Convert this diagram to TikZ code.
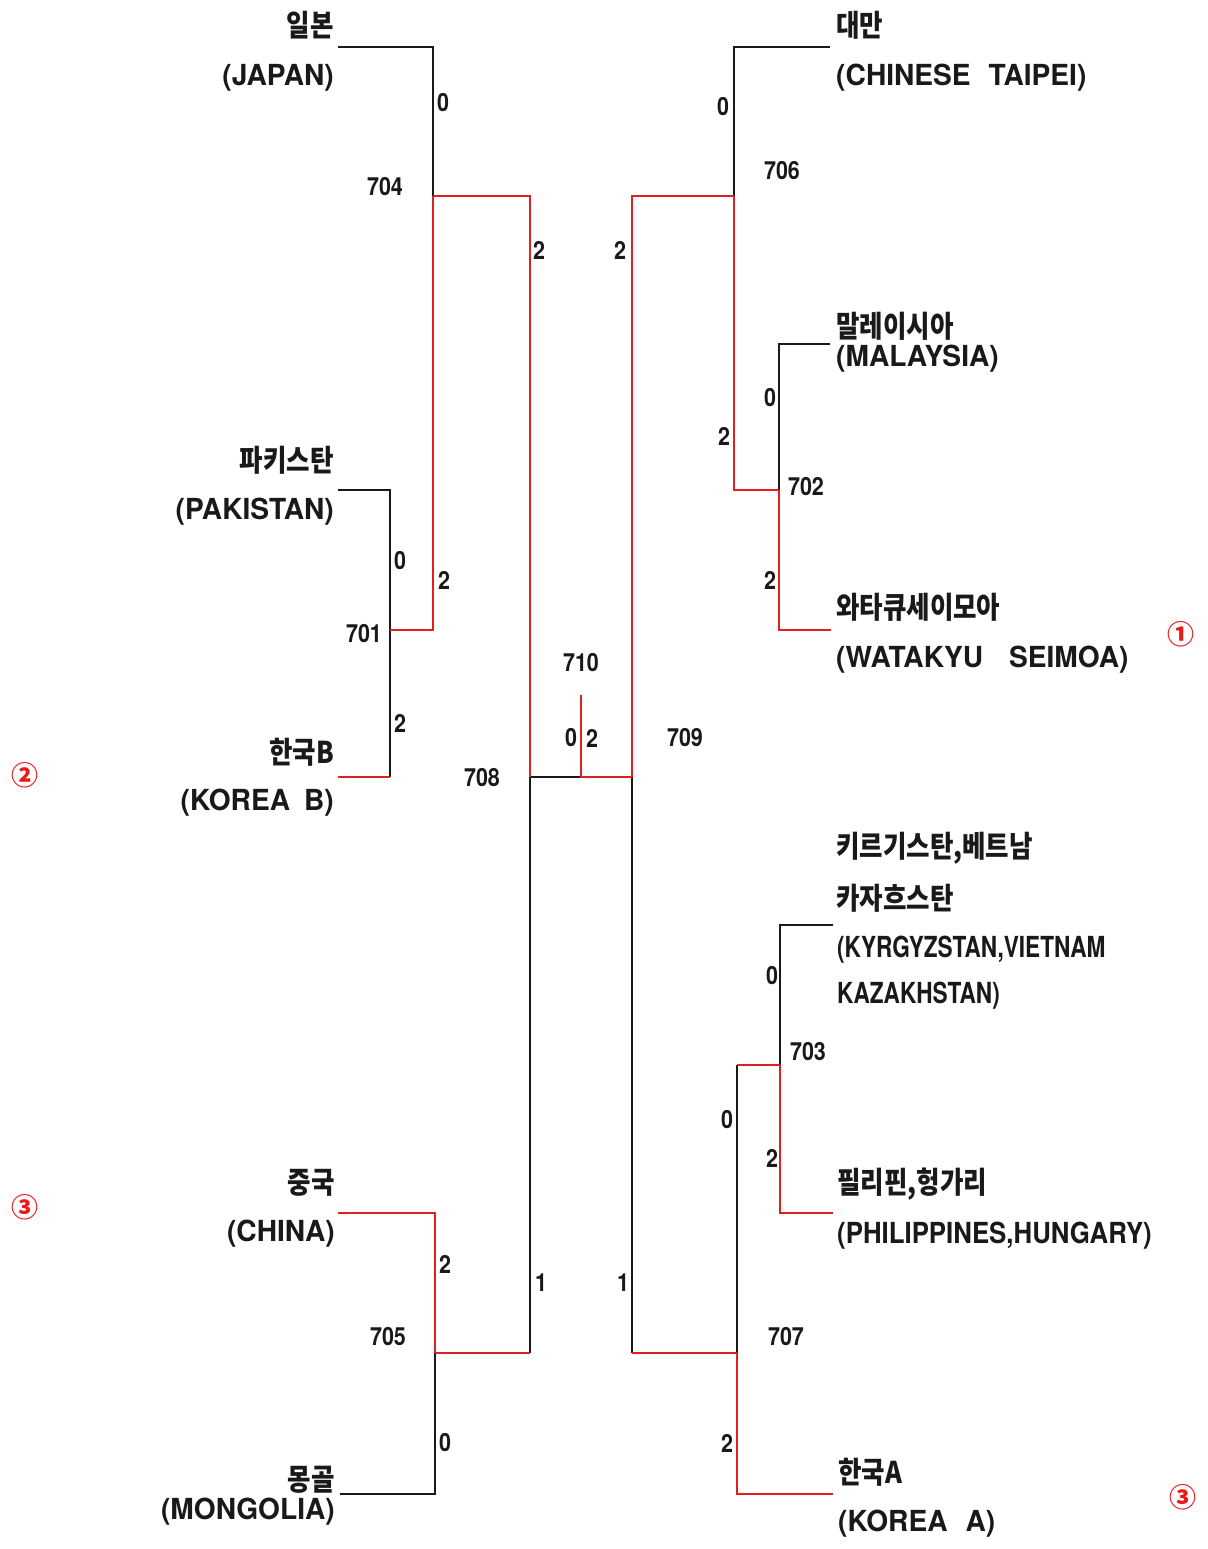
\documentclass[tikz,border=0pt]{standalone}
\usepackage{fontspec}
\setmainfont{TeX Gyre Heros}
\newfontfamily\enfont[FakeStretch=0.97]{TeX Gyre Heros}
\newfontfamily\enmid[FakeStretch=0.89]{TeX Gyre Heros}
\newfontfamily\encond[FakeStretch=0.78]{TeX Gyre Heros}
\newfontfamily\numfont[FakeStretch=0.86]{TeX Gyre Heros}
\newfontfamily\krfont[FakeStretch=0.85]{Noto Sans CJK KR}
\newfontfamily\circfont{Noto Sans CJK KR}
\definecolor{lred}{RGB}{222,32,32}
\definecolor{cred}{RGB}{235,25,25}
\definecolor{ink}{RGB}{25,25,25}
\begin{document}
\begin{tikzpicture}[x=1pt,y=-1pt,
  blk/.style={draw=ink,line width=2.6pt},
  rd/.style={draw=lred,line width=2.7pt},
  en/.style={inner sep=0pt,text=ink,font=\enfont\bfseries\fontsize{29}{30}\selectfont},
  enm/.style={inner sep=0pt,text=ink,font=\enmid\bfseries\fontsize{29}{30}\selectfont},
  enc/.style={inner sep=0pt,text=ink,font=\encond\bfseries\fontsize{29}{30}\selectfont},
  kr/.style={inner sep=0pt,text=ink,font=\krfont\bfseries\fontsize{30}{31}\selectfont},
  num/.style={inner sep=0pt,text=ink,font=\numfont\bfseries\fontsize{25}{26}\selectfont},
  circ/.style={inner sep=0pt,text=cred,font=\circfont\bfseries\fontsize{27}{28}\selectfont}]
\useasboundingbox[fill=white] (0,0) rectangle (1207,1549);

% leaf end points
\coordinate (eJP) at (338,47);
\coordinate (ePK) at (338,490);
\coordinate (eKB) at (338,777);
\coordinate (eCN) at (338,1213);
\coordinate (eMN) at (340,1494);
\coordinate (eTW) at (830,47);
\coordinate (eMY) at (830,344);
\coordinate (eWS) at (831,630);
\coordinate (eKZ) at (833,925);
\coordinate (ePHL) at (833,1213);
\coordinate (eKA) at (833,1494);
% junctions
\coordinate (n701) at (390,630);
\coordinate (n704) at (433,196);
\coordinate (n705) at (435,1353);
\coordinate (n708) at (530,777);
\coordinate (n710) at (581,777);
\coordinate (t710) at (581,695);
\coordinate (n709) at (632,777);
\coordinate (n706) at (734,196);
\coordinate (n702) at (779,490);
\coordinate (n707) at (737,1353);
\coordinate (n703) at (780,1065);

% black connectors
\draw[blk] (eJP) -| (n704);
\draw[blk] (ePK) -| (n701) -- (n701 |- eKB);
\draw[blk] (n708) -- (n710);
\draw[blk] (n708) -- (n708 |- n705);
\draw[blk] (eMN) -| (n705);
\draw[blk] (eTW) -| (n706);
\draw[blk] (eMY) -| (n702);
\draw[blk] (n709) -- (n709 |- n707);
\draw[blk] (n707) -- (n707 |- n703);
\draw[blk] (eKZ) -| (n703);

% red connectors
\draw[rd] (eKB) -- (n701 |- eKB);
\draw[rd] (n701) -| (n704);
\draw[rd] (n704) -| (n708);
\draw[rd] (t710) -- (n710) -- (n709);
\draw[rd] (n705) -- (n708 |- n705);
\draw[rd] (eCN) -| (n705);
\draw[rd] (n709) |- (n706);
\draw[rd] (n706) |- (n702);
\draw[rd] (eWS) -| (n702);
\draw[rd] (n709 |- n707) -- (n707);
\draw[rd] (eKA) -| (n707);
\draw[rd] (n707 |- n703) -- (n703);
\draw[rd] (n703) |- (ePHL);

% match numbers
\node[num] (l704) at (385,187) {704};
\node[num] (l701) at (364,634) {701};
\node[num] (l705) at (388,1337) {705};
\node[num] (l708) at (482,778) {708};
\node[num] (l710) at (581,663) {710};
\node[num] (l709) at (685,738) {709};
\node[num] (l706) at (782,171) {706};
\node[num] (l702) at (806,487) {702};
\node[num] (l703) at (808,1052) {703};
\node[num] (l707) at (786,1337) {707};

% scores
\node[num] (s1) at (443,103) {0};
\node[num] (s2) at (539,250) {2};
\node[num] (s3) at (444,580) {2};
\node[num] (s4) at (400,561) {0};
\node[num] (s5) at (400,723) {2};
\node[num] (s6) at (571,738) {0};
\node[num] (s7) at (592,738) {2};
\node[num] (s8) at (541,1283) {1};
\node[num] (s9) at (623,1283) {1};
\node[num] (s10) at (445,1264) {2};
\node[num] (s11) at (445,1443) {0};
\node[num] (s12) at (620,250) {2};
\node[num] (s13) at (723,107) {0};
\node[num] (s14) at (724,436) {2};
\node[num] (s15) at (770,398) {0};
\node[num] (s16) at (770,580) {2};
\node[num] (s17) at (727,1120) {0};
\node[num] (s18) at (772,976) {0};
\node[num] (s19) at (772,1158) {2};
\node[num] (s20) at (727,1443) {2};

% left team names
\node[kr,anchor=east] (jpk) at (334,25) {일본};
\node[en,anchor=east] (jpe) at (334,78) {(JAPAN)};
\node[kr,anchor=east] (pkk) at (334,460) {파키스탄};
\node[en,anchor=east] (pke) at (334,512) {(PAKISTAN)};
\node[kr,anchor=east] (kbk) at (334,752) {한국B};
\node[en,anchor=east] (kbe) at (334,803) {(KOREA\hspace{14pt}B)};
\node[kr,anchor=east] (cnk) at (335,1183) {중국};
\node[en,anchor=east] (cne) at (335,1234) {(CHINA)};
\node[kr,anchor=east] (mnk) at (335,1480) {몽골};
\node[en,anchor=east] (mne) at (335,1512) {(MONGOLIA)};

% right team names
\node[kr,anchor=west] (twk) at (836,25) {대만};
\node[en,anchor=west] (twe) at (836,78) {(CHINESE\hspace{18pt}TAIPEI)};
\node[kr,anchor=west] (myk) at (836,326) {말레이시아};
\node[en,anchor=west] (mye) at (836,359) {(MALAYSIA)};
\node[kr,anchor=west] (wsk) at (836,607) {와타큐세이모아};
\node[en,anchor=west] (wse) at (836,660) {(WATAKYU\hspace{26pt}SEIMOA)};
\node[kr,anchor=west] (kzk1) at (836,848) {키르기스탄,베트남};
\node[kr,anchor=west] (kzk2) at (836,898) {카자흐스탄};
\node[enc,anchor=west] (kze1) at (837,950) {(KYRGYZSTAN,VIETNAM};
\node[enc,anchor=west] (kze2) at (837,996) {KAZAKHSTAN)};
\node[kr,anchor=west] (phk) at (837,1184) {필리핀,헝가리};
\node[enm,anchor=west] (phe) at (837,1236) {(PHILIPPINES,HUNGARY)};
\node[kr,anchor=west] (kak) at (838,1472) {한국A};
\node[en,anchor=west] (kae) at (838,1524) {(KOREA\hspace{18pt}A)};

% circled ranks
\node[circ] (r1) at (1181,634) {①};
\node[circ] (r2) at (25,775) {②};
\node[circ] (r3a) at (25,1207) {③};
\node[circ] (r3b) at (1183,1497) {③};
\end{tikzpicture}
\end{document}
